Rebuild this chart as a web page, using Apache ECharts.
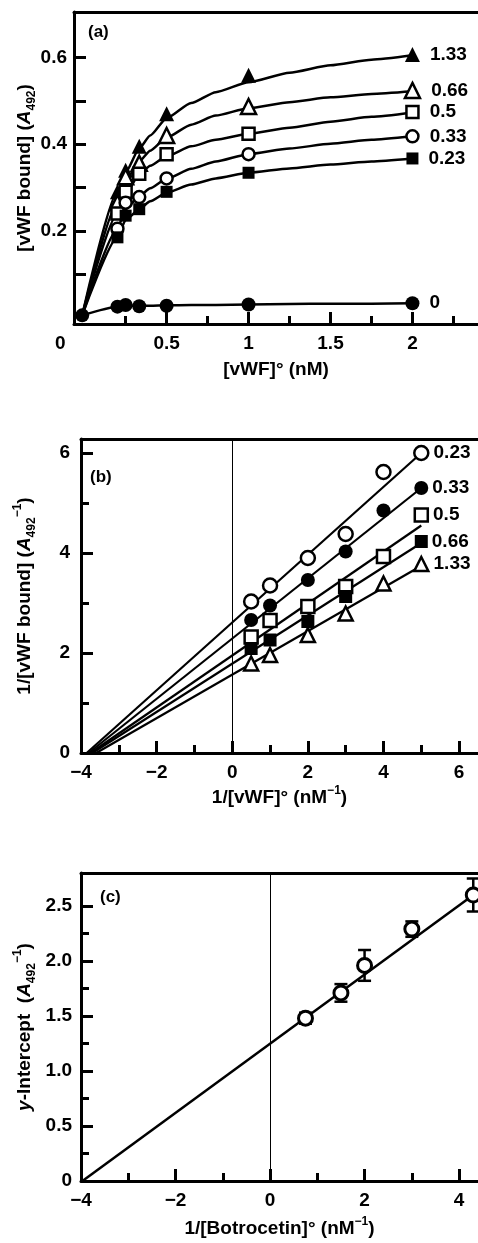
<!DOCTYPE html>
<html><head><meta charset="utf-8">
<script src="https://cdn.jsdelivr.net/npm/echarts@6/dist/echarts.min.js"></script>
<style>html,body{margin:0;padding:0;background:#fff}#c{width:478px;height:1243px}</style>
</head><body><div id="c"></div>
<script>
const FONT = "'Liberation Sans', Arial, Helvetica, sans-serif";

// ---------- Panel (a): [vWF bound] vs [vWF]° ----------
const aX = [0.2, 0.25, 0.333, 0.5, 1, 2];
const aNames = ['1.33', '0.66', '0.5', '0.33', '0.23', '0'];
const a133 = [0.29, 0.34, 0.395, 0.47, 0.559, 0.607];
const a066 = [0.265, 0.325, 0.356, 0.42, 0.487, 0.524];
const a05  = [0.24, 0.29, 0.332, 0.377, 0.424, 0.474];
const a033 = [0.205, 0.265, 0.278, 0.321, 0.377, 0.418];
const a023 = [0.185, 0.235, 0.25, 0.29, 0.334, 0.367];
const a0   = [0.025, 0.029, 0.026, 0.027, 0.03, 0.033];
const aOrigin = [-0.015, 0.005];
// fitted curves
const fitX = [-0.015, 0.2, 0.25, 0.333, 0.4, 0.5, 0.65, 0.8, 1, 1.25, 1.5, 1.75, 2];
const f133 = [0.005, 0.29, 0.335, 0.39, 0.42, 0.46, 0.495, 0.52, 0.543, 0.565, 0.582, 0.595, 0.605];
const f066 = [0.005, 0.265, 0.315, 0.36, 0.385, 0.415, 0.445, 0.466, 0.483, 0.497, 0.508, 0.516, 0.522];
const f05  = [0.005, 0.24, 0.285, 0.33, 0.35, 0.372, 0.395, 0.41, 0.424, 0.438, 0.452, 0.463, 0.473];
const f033 = [0.005, 0.205, 0.25, 0.28, 0.298, 0.32, 0.343, 0.36, 0.377, 0.39, 0.401, 0.41, 0.418];
const f023 = [0.005, 0.185, 0.225, 0.25, 0.268, 0.288, 0.307, 0.321, 0.334, 0.344, 0.353, 0.36, 0.367];
const f0   = [0.005, 0.025, 0.027, 0.027, 0.027, 0.028, 0.029, 0.029, 0.03, 0.031, 0.032, 0.032, 0.033];
const aXLabels = [0.5, 1, 1.5, 2];
const aXMajor = [0.5, 1, 1.5, 2];
const aXMinor = [0.25, 0.75, 1.25, 1.75, 2.25];
const aYLabels = [0.2, 0.4, 0.6];
const aYMajor = [0.2, 0.4, 0.6];
const aYMinor = [0.1, 0.3, 0.5];

// ---------- Panel (b): double reciprocal ----------
const bX = [0.5, 1, 2, 3, 4, 5];
const bNames = ['0.23', '0.33', '0.5', '0.66', '1.33'];
const b023 = [3.03, 3.35, 3.9, 4.38, 5.62, 6.0];
const b033 = [2.66, 2.95, 3.46, 4.03, 4.85, 5.3];
const b05  = [2.32, 2.65, 2.93, 3.33, 3.93, 4.76];
const b066 = [2.09, 2.26, 2.63, 3.13, null, 4.23];
const b133 = [1.79, 1.96, 2.36, 2.79, 3.39, 3.78];
// fitted straight lines: [x-start, y-start, x-end, y-end]
const bFit023 = [-3.85, 0, 5, 6.0];
const bFit033 = [-3.8, 0, 5, 5.3];
const bFit05  = [-3.75, 0, 5, 4.55];
const bFit066 = [-3.7, 0, 5, 4.2];
const bFit133 = [-3.6, 0, 4.9, 3.7];
const bXLabels = [-4, -2, 0, 2, 4, 6];
const bXMajor = [-2, 0, 2, 4, 6];
const bXMinor = [-3, -1, 1, 3, 5];
const bYLabels = [0, 2, 4, 6];
const bYMajor = [2, 4, 6];
const bYMinor = [1, 3, 5];

// ---------- Panel (c): y-intercept replot ----------
const cX = [0.75, 1.5, 2, 3, 4.3];
const cY = [1.48, 1.71, 1.96, 2.29, 2.60];
const cErr = [0.05, 0.08, 0.14, 0.07, 0.15];
const cFit = [-3.97, 0, 4.3, 2.6];
const cXLabels = [-4, -2, 0, 2, 4];
const cXMajor = [-2, 0, 2, 4];
const cXMinor = [-3, -1, 1, 3];
const cYLabels = [0, 0.5, 1, 1.5, 2, 2.5];
const cYMajor = [0.5, 1, 1.5, 2, 2.5];
const cYMinor = [0.25, 0.75, 1.25, 1.75, 2.25];

const txt = {color: '#000', fontSize: 19, fontWeight: 'bold', fontFamily: FONT};
const rich = {
  i: {fontStyle: 'italic', fontWeight: 'bold', fontSize: 19, fontFamily: FONT, color: '#000', lineHeight: 26},
  sub: {fontWeight: 'bold', fontSize: 12, fontFamily: FONT, color: '#000', lineHeight: 12, verticalAlign: 'bottom'},
  sup: {fontWeight: 'bold', fontSize: 12, fontFamily: FONT, color: '#000', lineHeight: 12, verticalAlign: 'top'}
};
const nameStyle = Object.assign({}, txt, {lineHeight: 26, rich: rich});
const minus = s => String(s).replace('-', '\u2212');

const panels = [
  {grid: {left: 74, right: -4, top: 12, height: 312},
   xMin: -0.065, xMax: 2.4, yMin: -0.015, yMax: 0.705,
   xLabels: aXLabels, xMajor: aXMajor, xMinor: aXMinor, yLabels: aYLabels, yMajor: aYMajor, yMinor: aYMinor,
   yMinorLen: 12,
   xFmt: v => String(v), yFmt: v => v.toFixed(1),
   xName: '[vWF]° (nM)', xGap: 33,
   yName: '[vWF bound] ({i|A}{sub|492})', yGap: 36, yLabelMargin: 7},
  {grid: {left: 81, right: -3, top: 439, height: 314},
   xMin: -4, xMax: 6.5, yMin: 0, yMax: 6.28,
   xLabels: bXLabels, xMajor: bXMajor, xMinor: bXMinor, yLabels: bYLabels, yMajor: bYMajor, yMinor: bYMinor,
   yMinorLen: 8,
   xFmt: v => minus(v), yFmt: v => String(v),
   xName: '1/[vWF]° (nM{sup|\u22121})', xGap: 32,
   yName: '1/[vWF bound] ({i|A}{sub|492}{sup|\u22121})', yGap: 43, yLabelMargin: 11},
  {grid: {left: 81, right: -7, top: 873, height: 312},
   xMin: -4, xMax: 4.4, yMin: 0, yMax: 2.8,
   xLabels: cXLabels, xMajor: cXMajor, xMinor: cXMinor, yLabels: cYLabels, yMajor: cYMajor, yMinor: cYMinor,
   yMinorLen: 8,
   xFmt: v => minus(v), yFmt: v => (v === 0 ? '0' : v.toFixed(1)),
   xName: '1/[Botrocetin]° (nM{sup|\u22121})', xGap: 35,
   yName: '{i|y}-Intercept  ({i|A}{sub|492}{sup|\u22121})', yGap: 43, yLabelMargin: 9}
];

const grids = [], xAxes = [], yAxes = [];
const lineW = 3;
panels.forEach((p, gi) => {
  grids.push(p.grid);
  const base = {gridIndex: gi, type: 'value', splitLine: {show: false}};
  xAxes.push(Object.assign({}, base, {
    min: p.xMin, max: p.xMax, position: 'bottom',
    axisLine: {show: true, onZero: false, lineStyle: {color: '#000', width: lineW}},
    axisTick: {show: true, inside: true, length: 12, lineStyle: {color: '#000', width: lineW}, customValues: p.xMajor},
    axisLabel: Object.assign({show: true, customValues: p.xLabels, margin: 10, formatter: p.xFmt}, txt),
    name: p.xName, nameLocation: 'middle', nameGap: p.xGap, nameMoveOverlap: false, nameTextStyle: nameStyle
  }));
  xAxes.push(Object.assign({}, base, {
    min: p.xMin, max: p.xMax, position: 'bottom',
    axisLine: {show: false, onZero: false},
    axisTick: {show: true, inside: true, length: 8, lineStyle: {color: '#000', width: lineW}, customValues: p.xMinor},
    axisLabel: {show: false}
  }));
  xAxes.push(Object.assign({}, base, {
    min: p.xMin, max: p.xMax, position: 'top',
    axisLine: {show: true, onZero: false, lineStyle: {color: '#000', width: lineW}},
    axisTick: {show: false}, axisLabel: {show: false}
  }));
  yAxes.push(Object.assign({}, base, {
    min: p.yMin, max: p.yMax, position: 'left',
    axisLine: {show: true, onZero: false, lineStyle: {color: '#000', width: lineW}},
    axisTick: {show: true, inside: true, length: 12, lineStyle: {color: '#000', width: lineW}, customValues: p.yMajor},
    axisLabel: Object.assign({show: true, customValues: p.yLabels, margin: p.yLabelMargin, formatter: p.yFmt}, txt),
    name: p.yName, nameLocation: 'middle', nameRotate: 90, nameGap: p.yGap, nameMoveOverlap: false, nameTextStyle: nameStyle
  }));
  yAxes.push(Object.assign({}, base, {
    min: p.yMin, max: p.yMax, position: 'left',
    axisLine: {show: false, onZero: false},
    axisTick: {show: true, inside: true, length: p.yMinorLen, lineStyle: {color: '#000', width: lineW}, customValues: p.yMinor},
    axisLabel: {show: false}
  }));
});

function pts(gi, xs, ys, name, sym, size, filled, dist, extra) {
  let data = xs.map((x, i) => (ys[i] == null ? null : [x, ys[i]])).filter(d => d);
  if (extra) data = [extra].concat(data);
  const last = data.length - 1;
  data = data.map((d, i) => (i === last ? {value: d, label: {show: true, formatter: name}} : d));
  return {
    type: 'scatter', xAxisIndex: gi * 3, yAxisIndex: gi * 2, data: data,
    symbol: sym, symbolSize: size, z: 5,
    itemStyle: {color: filled ? '#000' : '#fff', borderColor: '#000', borderWidth: filled ? 0 : 2.5, opacity: 1},
    label: Object.assign({show: false, position: 'right', distance: dist}, txt),
    emphasis: {disabled: true}
  };
}
function curve(gi, xs, ys, w, smooth) {
  return {
    type: 'line', xAxisIndex: gi * 3, yAxisIndex: gi * 2,
    data: xs.map((x, i) => [x, ys[i]]), symbol: 'none', showSymbol: false,
    smooth: smooth || false, smoothMonotone: 'x',
    lineStyle: {color: '#000', width: w}, z: 3, emphasis: {disabled: true}
  };
}
function seg(gi, f, w) {
  return curve(gi, [f[0], f[2]], [f[1], f[3]], w, false);
}
const zeroLine = {
  silent: true, symbol: ['none', 'none'], label: {show: false},
  lineStyle: {color: '#000', width: 1, type: 'solid'}, data: [{xAxis: 0}]
};

const series = [];
// (a)
[f133, f066, f05, f033, f023, f0].forEach(f => series.push(curve(0, fitX, f, 2.5, 0.2)));
series.push(pts(0, aX, a133, aNames[0], 'triangle', 15, true, 10));
series.push(pts(0, aX, a066, aNames[1], 'triangle', 15, false, 10));
series.push(pts(0, aX, a05, aNames[2], 'rect', 12, false, 10));
series.push(pts(0, aX, a033, aNames[3], 'circle', 12, false, 10));
series.push(pts(0, aX, a023, aNames[4], 'rect', 12, true, 10));
series.push(pts(0, aX, a0, aNames[5], 'circle', 14, true, 10, aOrigin));
// (b)
const bl = seg(1, bFit023, 2.2); bl.markLine = zeroLine; series.push(bl);
series.push(seg(1, bFit033, 2.2));
series.push(seg(1, bFit05, 2.2));
series.push(seg(1, bFit066, 2.2));
series.push(seg(1, bFit133, 2.2));
series.push(pts(1, bX, b023, bNames[0], 'circle', 14, false, 4));
series.push(pts(1, bX, b033, bNames[1], 'circle', 14, true, 4));
series.push(pts(1, bX, b05, bNames[2], 'rect', 13, false, 4));
series.push(pts(1, bX, b066, bNames[3], 'rect', 13, true, 4));
series.push(pts(1, bX, b133, bNames[4], 'triangle', 14, false, 4));
// (c)
const cl = seg(2, cFit, 2.5); cl.markLine = zeroLine; series.push(cl);
series.push({
  type: 'custom', xAxisIndex: 6, yAxisIndex: 4, z: 4,
  data: cX.map((x, i) => [x, cY[i], cErr[i]]),
  encode: {x: 0, y: 1},
  renderItem: function (params, api) {
    const x = api.value(0), y = api.value(1), e = api.value(2);
    const t = api.coord([x, y + e]), b = api.coord([x, y - e]);
    const hw = 6.5, st = {stroke: '#000', lineWidth: 2.5};
    return {type: 'group', children: [
      {type: 'line', shape: {x1: t[0], y1: t[1], x2: b[0], y2: b[1]}, style: st},
      {type: 'line', shape: {x1: t[0] - hw, y1: t[1], x2: t[0] + hw, y2: t[1]}, style: st},
      {type: 'line', shape: {x1: b[0] - hw, y1: b[1], x2: b[0] + hw, y2: b[1]}, style: st}
    ]};
  }
});
series.push({
  type: 'scatter', xAxisIndex: 6, yAxisIndex: 4, z: 5,
  data: cX.map((x, i) => [x, cY[i]]), symbol: 'circle', symbolSize: 14,
  itemStyle: {color: '#fff', borderColor: '#000', borderWidth: 3, opacity: 1}, emphasis: {disabled: true}
});

const chart = echarts.init(document.getElementById('c'), null, {renderer: 'canvas'});
chart.setOption({
  animation: false,
  backgroundColor: '#fff',
  grid: grids, xAxis: xAxes, yAxis: yAxes, series: series,
  graphic: [
    {type: 'text', left: 88, top: 24, style: Object.assign({text: '(a)'}, txt, {fill: '#000', fontSize: 17})},
    {type: 'text', left: 90, top: 469, style: Object.assign({text: '(b)'}, txt, {fill: '#000', fontSize: 17})},
    {type: 'text', left: 100, top: 889, style: Object.assign({text: '(c)'}, txt, {fill: '#000', fontSize: 17})},
    {type: 'text', left: 55, top: 334, style: Object.assign({text: '0'}, txt, {fill: '#000'})}
  ]
});
</script></body></html>
